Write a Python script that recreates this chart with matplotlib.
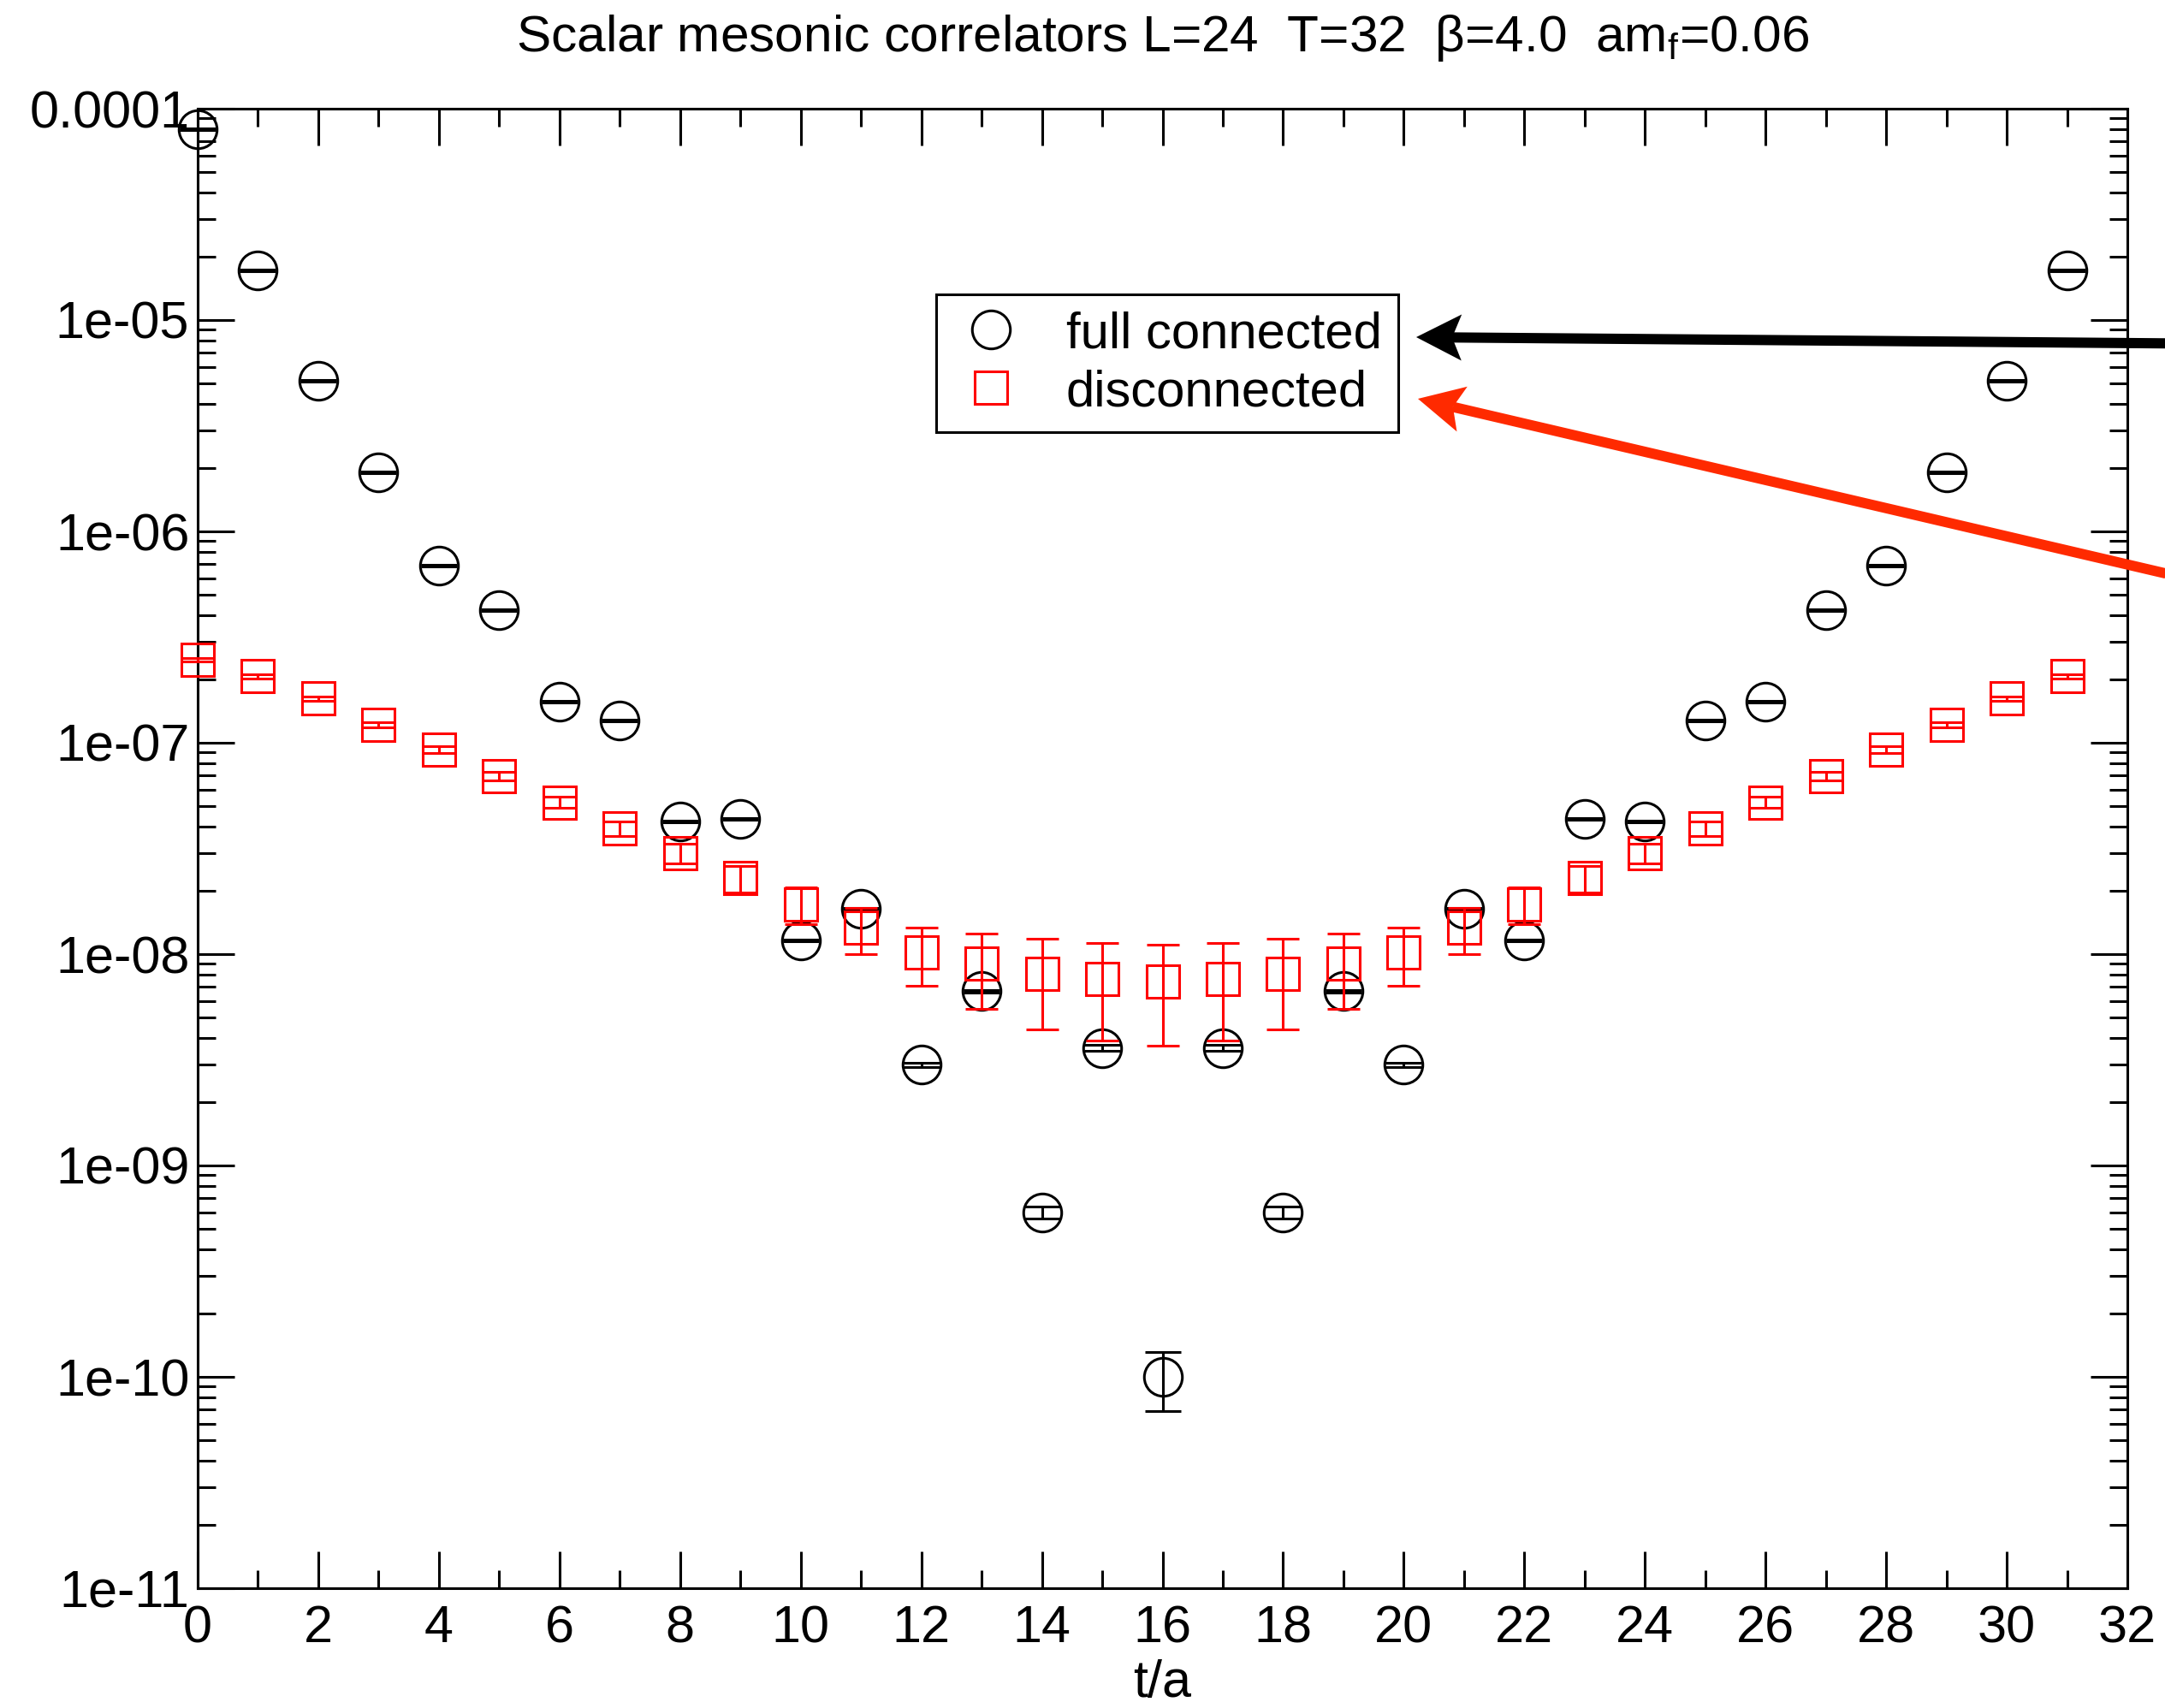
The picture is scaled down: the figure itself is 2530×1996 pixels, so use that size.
#%% Import libraries

import numpy as np
import matplotlib
matplotlib.use("Agg")
import matplotlib.pyplot as plt
from matplotlib.lines import Line2D
from matplotlib.patches import Polygon
from matplotlib.ticker import FixedLocator, FixedFormatter, MultipleLocator

#%% Data

t = list(range(32))

# full connected correlator and its error
conn = [8.0e-5, 1.72e-5, 5.15e-6, 1.91e-6, 6.87e-7, 4.24e-7, 1.57e-7, 1.27e-7,
        4.24e-8, 4.37e-8, 1.16e-8, 1.64e-8, 3.0e-9, 6.67e-9, 6.0e-10, 3.6e-9,
        1.0e-10, 3.6e-9, 6.0e-10, 6.67e-9, 3.0e-9, 1.64e-8, 1.16e-8, 4.37e-8,
        4.24e-8, 1.27e-7, 1.57e-7, 4.24e-7, 6.87e-7, 1.91e-6, 5.15e-6, 1.72e-5]
conn_err = [8e-7, 1.7e-7, 5e-8, 1.9e-8, 7e-9, 4e-9, 1.5e-9, 1.3e-9,
            4e-10, 4e-10, 1.2e-10, 1.5e-10, 7.5e-11, 1e-10, 3.8e-11, 1.1e-10,
            3.1e-11, 1.1e-10, 3.8e-11, 1e-10, 7.5e-11, 1.5e-10, 1.2e-10, 4e-10,
            4e-10, 1.3e-9, 1.5e-9, 4e-9, 7e-9, 1.9e-8, 5e-8, 1.7e-7]

# disconnected correlator and its error
disc = [2.47e-7, 2.06e-7, 1.62e-7, 1.22e-7, 9.27e-8, 6.96e-8, 5.23e-8, 3.93e-8,
        3.0e-8, 2.29e-8, 1.72e-8, 1.33e-8, 1.02e-8, 9.0e-9, 8.1e-9, 7.6e-9,
        7.4e-9, 7.6e-9, 8.1e-9, 9.0e-9, 1.02e-8, 1.33e-8, 1.72e-8, 2.29e-8,
        3.0e-8, 3.93e-8, 5.23e-8, 6.96e-8, 9.27e-8, 1.22e-7, 1.62e-7, 2.06e-7]
disc_err = [3.8e-9, 4.5e-9, 4.2e-9, 3.5e-9, 3.4e-9, 3.3e-9, 3.2e-9, 3.1e-9,
            3.2e-9, 3.3e-9, 3.4e-9, 3.3e-9, 3.1e-9, 3.5e-9, 3.7e-9, 3.7e-9,
            3.7e-9, 3.7e-9, 3.7e-9, 3.5e-9, 3.1e-9, 3.3e-9, 3.4e-9, 3.3e-9,
            3.2e-9, 3.1e-9, 3.2e-9, 3.3e-9, 3.4e-9, 3.5e-9, 4.2e-9, 4.5e-9]

ytick_vals = [1e-11, 1e-10, 1e-9, 1e-8, 1e-7, 1e-6, 1e-5, 1e-4]
ytick_labels = ['1e-11', '1e-10', '1e-09', '1e-08', '1e-07', '1e-06', '1e-05', '0.0001']

labels = ['full connected', 'disconnected']
title = r'Scalar mesonic correlators L=24  T=32  β=4.0  am$_\mathrm{f}$=0.06'

#%% Style

plt.rcParams['font.family'] = ['Liberation Sans', 'DejaVu Sans']
plt.rcParams['mathtext.fontset'] = 'custom'
plt.rcParams['mathtext.rm'] = 'Liberation Sans'
plt.rcParams['mathtext.it'] = 'Liberation Sans:italic'
plt.rcParams['mathtext.sf'] = 'Liberation Sans'

fs = 44
red = '#ff0000'
arrow_red = '#ff2a00'

W, H = 2530, 1996
fig = plt.figure(figsize=(W / 100, H / 100), dpi=100)
ax = fig.add_axes([231 / W, 1 - 1856 / H, (2486 - 231) / W, (1856 - 127) / H])

#%% Plot

ax.errorbar(t, conn, yerr=conn_err, fmt='o', ms=32, mfc='none', mec='black',
            mew=2.2, color='black', elinewidth=2.2, capsize=15, capthick=2.2,
            clip_on=False, zorder=3)
ax.errorbar(t, disc, yerr=disc_err, fmt='s', ms=27, mfc='none', mec=red,
            mew=2.2, color=red, elinewidth=2.2, capsize=14, capthick=2.2,
            clip_on=False, zorder=4)

ax.set_yscale('log')
ax.set_xlim(0, 32)
ax.set_ylim(1e-11, 1e-4)
ax.xaxis.set_major_locator(MultipleLocator(2))
ax.xaxis.set_minor_locator(MultipleLocator(1))
ax.yaxis.set_major_locator(FixedLocator(ytick_vals))
ax.yaxis.set_major_formatter(FixedFormatter(ytick_labels))

for s in ax.spines.values():
    s.set_linewidth(2.2)
ax.tick_params(which='both', direction='in', top=True, right=True, width=2.2,
               labelsize=fs)
ax.tick_params(which='major', length=31)
ax.tick_params(which='minor', length=15)
ax.tick_params(axis='x', pad=14)
ax.tick_params(axis='y', pad=7)

ax.set_xlabel('t/a', fontsize=fs, labelpad=5)
ax.set_title(title, fontsize=43.5, pad=48)

# Legend
handles = [Line2D([], [], ls='none', marker='o', ms=32, mfc='none', mec='black', mew=2.2),
           Line2D([], [], ls='none', marker='s', ms=27, mfc='none', mec=red, mew=2.2)]
leg = ax.legend(handles, labels, loc='upper left',
                bbox_to_anchor=((1094 - 231) / 2255, (1856 - 344) / 1729),
                borderaxespad=0, fontsize=43, frameon=True, fancybox=False,
                edgecolor='black', framealpha=1, handlelength=1.5,
                handletextpad=0.72, labelspacing=0.22, borderpad=0.32)
leg.get_frame().set_linewidth(2.2)

#%% Arrows (figure pixel coordinates, y measured from the top)

def draw_arrow(tip, tail, color, head_len=53, head_w=54, notch=11, lw=12):
    tip = np.array([tip[0], H - tip[1]], dtype=float)
    tail = np.array([tail[0], H - tail[1]], dtype=float)
    d = tip - tail
    d /= np.hypot(*d)
    n = np.array([-d[1], d[0]])
    base = tip - d * head_len
    nb = base + d * notch
    pts = np.array([tip, base + n * head_w / 2, nb, base - n * head_w / 2])
    shaft = np.array([tail, nb])
    fig.add_artist(Line2D(shaft[:, 0] / W, shaft[:, 1] / H, lw=lw * 0.72,
                          color=color, solid_capstyle='butt',
                          transform=fig.transFigure))
    fig.add_artist(Polygon(pts / [W, H], closed=True, facecolor=color,
                           edgecolor='none', transform=fig.transFigure))

draw_arrow((1655, 394), (2620, 402), 'black')
draw_arrow((1657, 466), (2620, 691), arrow_red)

fig.savefig('out.png', dpi=100)
